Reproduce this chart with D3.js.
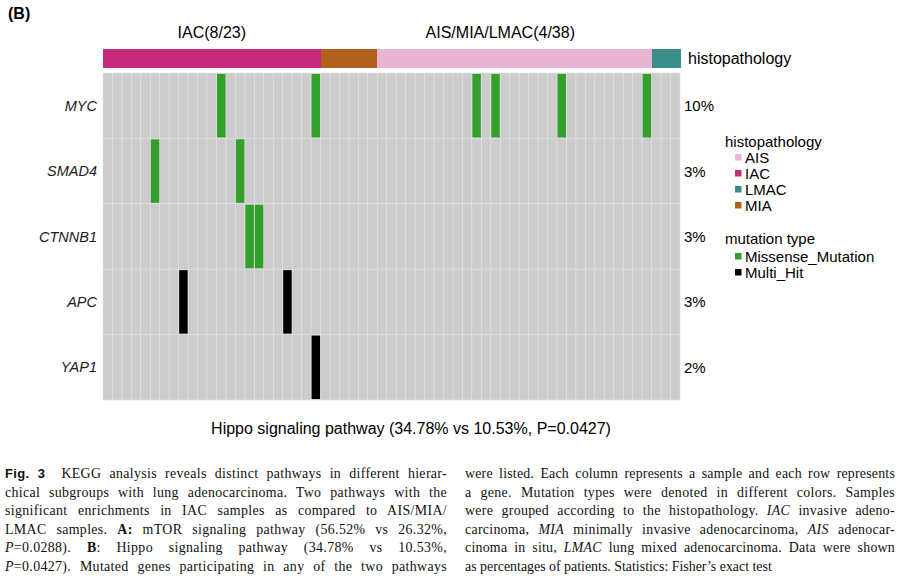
<!DOCTYPE html>
<html><head><meta charset="utf-8">
<script src="https://cdn.jsdelivr.net/npm/d3@7"></script>
<style>body{margin:0;background:#fff}svg{display:block}</style>
</head><body>
<svg id="c" width="904" height="580"></svg>
<script>
// ---------- data ----------
const genes = ["MYC", "SMAD4", "CTNNB1", "APC", "YAP1"];
const genePct = ["10%", "3%", "3%", "3%", "2%"];
const histoGroups = ["IAC", "MIA", "AIS", "LMAC"];
const histoCounts = [23, 6, 29, 3];
const legendHisto = ["AIS", "IAC", "LMAC", "MIA"];
const histoColors = {AIS: "#e8b5d3", IAC: "#c62a7e", LMAC: "#3a8e89", MIA: "#b0621d"};
const mutTypes = ["Missense_Mutation", "Multi_Hit"];
const mutColors = {Missense_Mutation: "#33a02c", Multi_Hit: "#000000"};
// mutations: gene, sample column index, type
const mutGene   = ["MYC","MYC","MYC","MYC","MYC","MYC","SMAD4","SMAD4","CTNNB1","CTNNB1","APC","APC","YAP1"];
const mutSample = [12, 22, 39, 41, 48, 57, 5, 14, 15, 16, 8, 19, 22];
const mutType   = ["Missense_Mutation","Missense_Mutation","Missense_Mutation","Missense_Mutation","Missense_Mutation","Missense_Mutation","Missense_Mutation","Missense_Mutation","Missense_Mutation","Missense_Mutation","Multi_Hit","Multi_Hit","Multi_Hit"];
const groupLabels = ["IAC(8/23)", "AIS/MIA/LMAC(4/38)"];
const groupSizes = [23, 38];
const pathwayTitle = "Hippo signaling pathway (34.78% vs 10.53%, P=0.0427)";

// ---------- build samples ----------
const samples = [];
histoGroups.forEach((g, gi) => { for (let i = 0; i < histoCounts[gi]; i++) samples.push({id: "S" + (samples.length + 1), histo: g}); });
const mutations = mutGene.map((g, i) => ({gene: g, sample: mutSample[i], type: mutType[i]}));

const svg = d3.select("#c");
const sans = "Liberation Sans, Arial, sans-serif";
const serif = "Liberation Serif, Times New Roman, serif";

const x = d3.scaleBand().domain(samples.map(d => d.id)).range([103, 680]).padding(0);
const y = d3.scaleBand().domain(genes).range([73, 400]).padding(0);

// panel label
svg.append("text").attr("x", 8).attr("y", 19).attr("font-family", sans).attr("font-weight", "bold")
  .attr("font-size", 16).text("(B)");

// group labels
let acc = 0;
groupLabels.forEach((lab, i) => {
  const x0 = x(samples[acc].id), x1 = x(samples[acc + groupSizes[i] - 1].id) + x.bandwidth();
  svg.append("text").attr("x", (x0 + x1) / 2).attr("y", 38).attr("text-anchor", "middle")
    .attr("font-family", sans).attr("font-size", 16).text(lab);
  acc += groupSizes[i];
});

// histopathology bar
svg.append("g").attr("shape-rendering", "crispEdges").selectAll("rect").data(samples).join("rect")
  .attr("x", d => x(d.id)).attr("y", 49).attr("width", x.bandwidth() + 1).attr("height", 18.5)
  .attr("fill", d => histoColors[d.histo]);
svg.append("text").attr("x", 688).attr("y", 64).attr("font-family", sans).attr("font-size", 16).text("histopathology");

// grid cells
const cells = [];
genes.forEach(g => samples.forEach(s => cells.push({g, s: s.id})));
svg.append("g").selectAll("rect").data(cells).join("rect")
  .attr("x", d => x(d.s)).attr("y", d => y(d.g)).attr("width", x.bandwidth()).attr("height", y.bandwidth())
  .attr("fill", "#cccccc").attr("stroke", "#e0e0e0").attr("stroke-width", 0.6);

// mutations
svg.append("g").selectAll("rect").data(mutations).join("rect")
  .attr("x", d => x(samples[d.sample].id) + 0.5).attr("y", d => y(d.gene) + 1)
  .attr("width", x.bandwidth() - 1).attr("height", y.bandwidth() - 2)
  .attr("fill", d => mutColors[d.type]);

// gene labels & percentages
genes.forEach((g, i) => {
  const cy = y(g) + y.bandwidth() / 2;
  svg.append("text").attr("x", 97).attr("y", cy + 5).attr("text-anchor", "end")
    .attr("font-family", sans).attr("font-style", "italic").attr("font-size", 14.5).attr("fill", "#1a1a1a").text(g);
  svg.append("text").attr("x", 684).attr("y", cy + 5.5).attr("font-family", sans).attr("font-size", 15).text(genePct[i]);
});

// legends
const lg = svg.append("g").attr("font-family", sans);
lg.append("text").attr("x", 725).attr("y", 147).attr("font-size", 15).text("histopathology");
legendHisto.forEach((h, i) => {
  const cy = 157 + i * 16;
  lg.append("rect").attr("x", 735).attr("y", cy - 3).attr("width", 6.5).attr("height", 6.5).attr("fill", histoColors[h]);
  lg.append("text").attr("x", 745).attr("y", cy + 5.5).attr("font-size", 15).text(h);
});
lg.append("text").attr("x", 725).attr("y", 244).attr("font-size", 15).text("mutation type");
mutTypes.forEach((m, i) => {
  const cy = 256 + i * 16;
  lg.append("rect").attr("x", 735).attr("y", cy - 3).attr("width", 6.5).attr("height", 6.5).attr("fill", mutColors[m]);
  lg.append("text").attr("x", 745).attr("y", cy + 5.5).attr("font-size", 15).text(m);
});

// pathway title
svg.append("text").attr("x", 411).attr("y", 434).attr("text-anchor", "middle")
  .attr("font-family", sans).attr("font-size", 16).text(pathwayTitle);

// caption
const leftLines = [
  [["Fig. 3", "figb"], ["  KEGG analysis reveals distinct pathways in different hierar-", ""]],
  [["chical subgroups with lung adenocarcinoma. Two pathways with the", ""]],
  [["significant enrichments in IAC samples as compared to AIS/MIA/", ""]],
  [["LMAC samples. ", ""], ["A:", "b"], [" mTOR signaling pathway (56.52% vs 26.32%,", ""]],
  [["P", "i"], ["=0.0288). ", ""], ["B", "b"], [": Hippo signaling pathway (34.78% vs 10.53%,", ""]],
  [["P", "i"], ["=0.0427). Mutated genes participating in any of the two pathways", ""]]
];
const rightLines = [
  [["were listed. Each column represents a sample and each row represents", ""]],
  [["a gene. Mutation types were denoted in different colors. Samples", ""]],
  [["were grouped according to the histopathology. ", ""], ["IAC", "i"], [" invasive adeno-", ""]],
  [["carcinoma, ", ""], ["MIA", "i"], [" minimally invasive adenocarcinoma, ", ""], ["AIS", "i"], [" adenocar-", ""]],
  [["cinoma in situ, ", ""], ["LMAC", "i"], [" lung mixed adenocarcinoma. Data were shown", ""]],
  [["as percentages of patients. Statistics: Fisher’s exact test", ""]]
];
function drawCol(lines, x0, x1, lastJustify) {
  lines.forEach((segs, i) => {
    const t = svg.append("text").attr("x", x0).attr("y", 478 + i * 18.6)
      .attr("font-family", serif).attr("font-size", 13.9).attr("fill", "#111").attr("xml:space", "preserve");
    segs.forEach(([s, st]) => {
      const ts = t.append("tspan").text(s);
      if (st === "b") ts.attr("font-weight", "bold");
      if (st === "i") ts.attr("font-style", "italic");
      if (st === "figb") ts.attr("font-weight", "bold").attr("font-family", sans).attr("font-size", 13);
    });
    if (i < lines.length - 1 || lastJustify) {
      const w = t.node().getComputedTextLength();
      const full = segs.map(s => s[0]).join("");
      const spaces = (full.match(/ /g) || []).length;
      const chars = full.length;
      let extra = x1 - x0 - w;
      if (extra > 0) {
        const ls = Math.min(extra * 0.35 / chars, 0.35);
        t.attr("letter-spacing", ls);
        extra -= ls * chars;
      }
      if (spaces > 0) t.attr("word-spacing", extra / spaces);
    }
  });
}
drawCol(leftLines, 5, 447, true);
drawCol(rightLines, 465, 895, false);
</script>
</body></html>
